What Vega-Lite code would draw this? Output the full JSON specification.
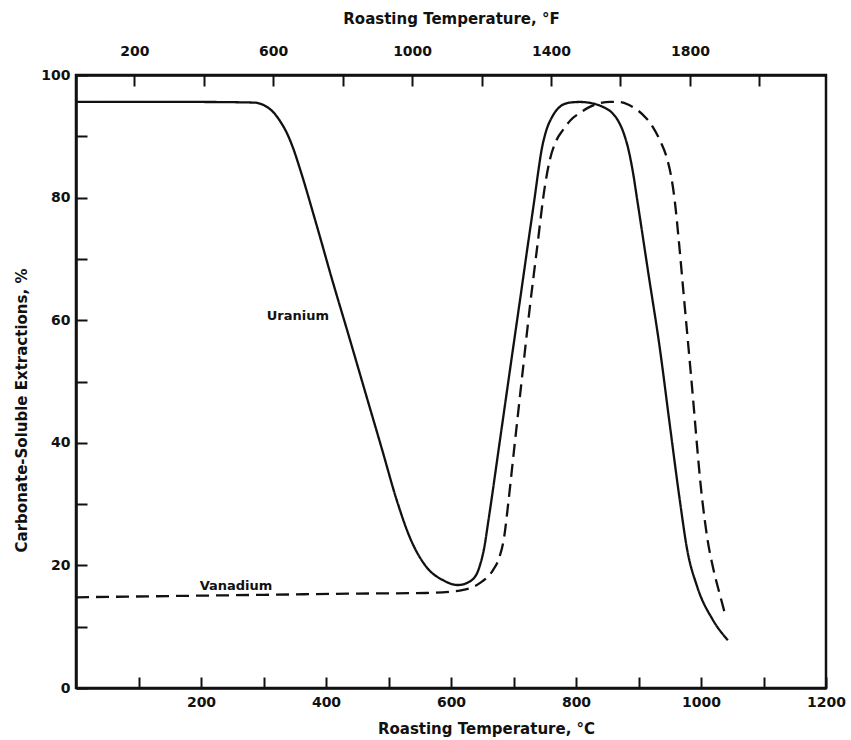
{
  "$schema": "https://vega.github.io/schema/vega-lite/v6.json",
  "width": 750,
  "height": 613,
  "autosize": {"type": "none"},
  "padding": {"left": 76, "top": 75, "right": 25, "bottom": 52},
  "background": "white",
  "config": {
    "view": {"stroke": "#111111", "strokeWidth": 2.5},
    "font": "DejaVu Sans",
    "axis": {
      "grid": false,
      "domainColor": "#111111",
      "domainWidth": 2.5,
      "tickColor": "#111111",
      "tickWidth": 2,
      "tickSize": -11,
      "labelFont": "DejaVu Sans",
      "labelFontWeight": "bold",
      "labelFontSize": 14,
      "labelColor": "#111111",
      "labelFlush": false,
      "labelOverlap": false,
      "titleFont": "DejaVu Sans",
      "titleFontWeight": "bold",
      "titleFontSize": 15,
      "titleColor": "#111111"
    }
  },
  "datasets": {
    "curves": [
      {"metal": "Uranium", "temp_c": 0, "extraction": 95.6},
      {"metal": "Uranium", "temp_c": 100, "extraction": 95.6},
      {"metal": "Uranium", "temp_c": 200, "extraction": 95.6},
      {"metal": "Uranium", "temp_c": 285, "extraction": 95.5},
      {"metal": "Uranium", "temp_c": 302, "extraction": 95.0},
      {"metal": "Uranium", "temp_c": 316, "extraction": 93.9},
      {"metal": "Uranium", "temp_c": 327, "extraction": 92.4},
      {"metal": "Uranium", "temp_c": 338, "extraction": 90.4},
      {"metal": "Uranium", "temp_c": 348, "extraction": 87.9},
      {"metal": "Uranium", "temp_c": 358, "extraction": 84.8},
      {"metal": "Uranium", "temp_c": 385, "extraction": 75.5},
      {"metal": "Uranium", "temp_c": 411, "extraction": 66.2},
      {"metal": "Uranium", "temp_c": 434, "extraction": 58.3},
      {"metal": "Uranium", "temp_c": 465, "extraction": 47.5},
      {"metal": "Uranium", "temp_c": 490, "extraction": 38.8},
      {"metal": "Uranium", "temp_c": 513, "extraction": 30.7},
      {"metal": "Uranium", "temp_c": 534, "extraction": 24.6},
      {"metal": "Uranium", "temp_c": 561, "extraction": 19.7},
      {"metal": "Uranium", "temp_c": 587, "extraction": 17.6},
      {"metal": "Uranium", "temp_c": 611, "extraction": 16.8},
      {"metal": "Uranium", "temp_c": 632, "extraction": 17.5},
      {"metal": "Uranium", "temp_c": 645, "extraction": 19.6},
      {"metal": "Uranium", "temp_c": 653, "extraction": 22.8},
      {"metal": "Uranium", "temp_c": 660, "extraction": 27.4},
      {"metal": "Uranium", "temp_c": 678, "extraction": 40.2},
      {"metal": "Uranium", "temp_c": 699, "extraction": 55.2},
      {"metal": "Uranium", "temp_c": 710, "extraction": 63.0},
      {"metal": "Uranium", "temp_c": 722, "extraction": 71.6},
      {"metal": "Uranium", "temp_c": 734, "extraction": 80.1},
      {"metal": "Uranium", "temp_c": 739, "extraction": 83.8},
      {"metal": "Uranium", "temp_c": 745, "extraction": 87.8},
      {"metal": "Uranium", "temp_c": 752, "extraction": 90.8},
      {"metal": "Uranium", "temp_c": 762, "extraction": 93.2},
      {"metal": "Uranium", "temp_c": 774, "extraction": 94.8},
      {"metal": "Uranium", "temp_c": 790, "extraction": 95.5},
      {"metal": "Uranium", "temp_c": 806, "extraction": 95.6},
      {"metal": "Uranium", "temp_c": 825, "extraction": 95.4},
      {"metal": "Uranium", "temp_c": 843, "extraction": 94.8},
      {"metal": "Uranium", "temp_c": 857, "extraction": 93.9},
      {"metal": "Uranium", "temp_c": 867, "extraction": 92.6},
      {"metal": "Uranium", "temp_c": 876, "extraction": 90.6},
      {"metal": "Uranium", "temp_c": 884, "extraction": 87.8},
      {"metal": "Uranium", "temp_c": 891, "extraction": 84.2},
      {"metal": "Uranium", "temp_c": 898, "extraction": 79.6},
      {"metal": "Uranium", "temp_c": 916, "extraction": 67.5},
      {"metal": "Uranium", "temp_c": 934, "extraction": 55.5},
      {"metal": "Uranium", "temp_c": 950, "extraction": 43.0},
      {"metal": "Uranium", "temp_c": 966, "extraction": 30.7},
      {"metal": "Uranium", "temp_c": 978, "extraction": 22.5},
      {"metal": "Uranium", "temp_c": 994, "extraction": 16.5},
      {"metal": "Uranium", "temp_c": 1019, "extraction": 11.1},
      {"metal": "Uranium", "temp_c": 1043, "extraction": 7.8},
      {"metal": "Vanadium", "temp_c": 0, "extraction": 14.8},
      {"metal": "Vanadium", "temp_c": 150, "extraction": 15.0},
      {"metal": "Vanadium", "temp_c": 300, "extraction": 15.2},
      {"metal": "Vanadium", "temp_c": 450, "extraction": 15.4},
      {"metal": "Vanadium", "temp_c": 560, "extraction": 15.5},
      {"metal": "Vanadium", "temp_c": 614, "extraction": 15.9},
      {"metal": "Vanadium", "temp_c": 646, "extraction": 17.1},
      {"metal": "Vanadium", "temp_c": 667, "extraction": 19.2},
      {"metal": "Vanadium", "temp_c": 677, "extraction": 21.2},
      {"metal": "Vanadium", "temp_c": 685, "extraction": 24.6},
      {"metal": "Vanadium", "temp_c": 692, "extraction": 30.5},
      {"metal": "Vanadium", "temp_c": 700, "extraction": 38.0},
      {"metal": "Vanadium", "temp_c": 714, "extraction": 51.0},
      {"metal": "Vanadium", "temp_c": 726, "extraction": 62.0},
      {"metal": "Vanadium", "temp_c": 738, "extraction": 72.0},
      {"metal": "Vanadium", "temp_c": 750, "extraction": 81.7},
      {"metal": "Vanadium", "temp_c": 758, "extraction": 86.1},
      {"metal": "Vanadium", "temp_c": 768, "extraction": 89.2},
      {"metal": "Vanadium", "temp_c": 779, "extraction": 91.0},
      {"metal": "Vanadium", "temp_c": 792, "extraction": 92.7},
      {"metal": "Vanadium", "temp_c": 806, "extraction": 93.8},
      {"metal": "Vanadium", "temp_c": 822, "extraction": 94.8},
      {"metal": "Vanadium", "temp_c": 838, "extraction": 95.4},
      {"metal": "Vanadium", "temp_c": 855, "extraction": 95.6},
      {"metal": "Vanadium", "temp_c": 870, "extraction": 95.6},
      {"metal": "Vanadium", "temp_c": 885, "extraction": 95.1},
      {"metal": "Vanadium", "temp_c": 898, "extraction": 94.3},
      {"metal": "Vanadium", "temp_c": 912, "extraction": 93.0},
      {"metal": "Vanadium", "temp_c": 923, "extraction": 91.5},
      {"metal": "Vanadium", "temp_c": 935, "extraction": 89.2},
      {"metal": "Vanadium", "temp_c": 945, "extraction": 86.6},
      {"metal": "Vanadium", "temp_c": 952, "extraction": 83.6},
      {"metal": "Vanadium", "temp_c": 958, "extraction": 79.5},
      {"metal": "Vanadium", "temp_c": 964, "extraction": 73.5},
      {"metal": "Vanadium", "temp_c": 972, "extraction": 64.5},
      {"metal": "Vanadium", "temp_c": 984, "extraction": 51.0},
      {"metal": "Vanadium", "temp_c": 1002, "extraction": 30.7},
      {"metal": "Vanadium", "temp_c": 1010, "extraction": 24.5},
      {"metal": "Vanadium", "temp_c": 1020, "extraction": 19.3},
      {"metal": "Vanadium", "temp_c": 1030, "extraction": 15.3},
      {"metal": "Vanadium", "temp_c": 1040, "extraction": 11.5}
    ],
    "labels": [
      {"label": "Uranium", "temp_c": 355, "extraction": 60.7},
      {"label": "Vanadium", "temp_c": 256, "extraction": 16.6}
    ],
    "fahrenheit": [
      {"temp_f": 32},
      {"temp_f": 2192}
    ]
  },
  "layer": [
    {
      "encoding": {
        "x": {
          "field": "temp_c",
          "type": "quantitative",
          "scale": {"domain": [0, 1200], "nice": false, "zero": false},
          "axis": {
            "orient": "bottom",
            "values": [100, 200, 300, 400, 500, 600, 700, 800, 900, 1000, 1100, 1200],
            "labelExpr": "datum.value % 200 == 0 ? datum.label : ''",
            "format": "d",
            "labelPadding": 18,
            "title": "Roasting Temperature, °C",
            "titleX": 410,
            "titleY": 40,
            "titleBaseline": "middle"
          }
        },
        "y": {
          "field": "extraction",
          "type": "quantitative",
          "scale": {"domain": [0, 100], "nice": false},
          "axis": {
            "orient": "left",
            "values": [0, 10, 20, 30, 40, 50, 60, 70, 80, 90, 100],
            "labelExpr": "datum.value % 20 == 0 ? datum.label : ''",
            "format": "d",
            "labelPadding": 17,
            "title": "Carbonate-Soluble Extractions, %",
            "titleX": -55,
            "titleY": 335,
            "titleBaseline": "middle"
          }
        }
      },
      "layer": [
        {
          "data": {"name": "curves"},
          "mark": {"type": "line", "interpolate": "monotone", "color": "#111111", "strokeWidth": 2.3},
          "encoding": {
            "strokeDash": {
              "field": "metal",
              "type": "nominal",
              "scale": {"domain": ["Uranium", "Vanadium"], "range": [[1, 0], [13, 7]]},
              "legend": null
            }
          }
        },
        {
          "data": {"name": "labels"},
          "mark": {"type": "text", "font": "DejaVu Sans", "fontWeight": "bold", "fontSize": 13, "color": "#111111"},
          "encoding": {"text": {"field": "label", "type": "nominal"}}
        }
      ]
    },
    {
      "data": {"name": "fahrenheit"},
      "mark": {"type": "point", "opacity": 0},
      "encoding": {
        "x": {
          "field": "temp_f",
          "type": "quantitative",
          "scale": {"domain": [32, 2192], "nice": false, "zero": false},
          "axis": {
            "orient": "top",
            "values": [200, 400, 600, 800, 1000, 1200, 1400, 1600, 1800, 2000],
            "labelExpr": "datum.value % 400 == 200 ? datum.label : ''",
            "format": "d",
            "labelPadding": 28,
            "title": "Roasting Temperature, °F",
            "titleX": 375,
            "titleY": -57,
            "titleBaseline": "middle"
          }
        }
      }
    }
  ],
  "resolve": {"scale": {"x": "independent"}}
}
